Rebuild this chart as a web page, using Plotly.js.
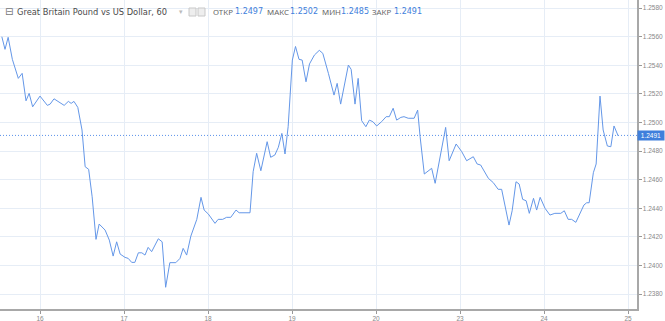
<!DOCTYPE html>
<html><head><meta charset="utf-8">
<script src="https://cdn.plot.ly/plotly-3.0.1.min.js"></script>
<style>html,body{margin:0;padding:0;background:#fff}</style>
</head><body><div id="chart" style="width:665px;height:321px"></div>
<script>
// trading hours from the start of day 16 (weekend removed)
const hours = [-10.9,-10.0,-9.1,-7.9,-6.2,-5.1,-4.0,-3.1,-2.1,0,2.1,2.9,4.0,6.9,8.1,8.9,9.7,10.8,12.0,12.9,13.9,14.9,16.0,16.9,18.6,19.8,20.9,21.9,22.9,24.3,25.2,26.2,27.1,28.1,29.1,30.0,30.9,31.9,33.8,34.9,35.9,37.1,38.8,40.0,40.9,41.9,43.1,44.8,46.0,46.9,48.1,50.0,50.9,52.2,53.3,54.5,56.0,56.9,60.0,60.9,61.9,63.1,64.9,65.9,67.1,68.1,69.1,70.0,70.9,72.1,73.0,74.0,74.9,76.0,77.0,78.4,79.8,80.8,82.4,84.0,84.9,85.9,88.1,88.9,90.0,90.9,91.9,93.1,94.1,95.1,96.2,97.6,98.9,99.8,100.9,101.9,103.1,104.0,105.2,106.9,107.9,108.6,109.8,111.9,112.9,115.9,116.9,118.9,120.5,121.9,123.8,124.9,125.9,128.1,129.5,130.9,131.9,134.0,134.9,136.0,136.9,137.9,138.9,139.8,141.0,141.9,142.9,144.3,145.7,147.1,148.8,149.8,150.9,151.9,153.1,154.3,155.4,156.2,156.9,158.1,158.9,160.0,160.9,162.1,163.1,164.0,165.2];
const prices = [1.2560,1.25512,1.25596,1.25442,1.25309,1.25344,1.25152,1.25204,1.25110,1.25185,1.25120,1.25129,1.25166,1.25120,1.25148,1.25134,1.25148,1.25106,1.24948,1.24691,1.24673,1.24481,1.24183,1.24290,1.24248,1.24178,1.24066,1.24166,1.24080,1.24057,1.24050,1.24022,1.24022,1.24089,1.24089,1.24073,1.24127,1.24097,1.24187,1.24166,1.23848,1.24020,1.24020,1.24050,1.24120,1.24073,1.24206,1.24323,1.24477,1.24388,1.24360,1.24295,1.24323,1.24323,1.24337,1.24337,1.24388,1.24369,1.24369,1.24656,1.24785,1.24663,1.24866,1.24757,1.24773,1.24827,1.24924,1.24780,1.24971,1.25437,1.25532,1.25442,1.25437,1.25285,1.25410,1.25472,1.25505,1.25484,1.25344,1.25192,1.25274,1.25129,1.25402,1.25372,1.25129,1.25309,1.25013,1.24971,1.25017,1.25006,1.24976,1.25006,1.25041,1.25041,1.25100,1.25017,1.25036,1.25041,1.25030,1.25030,1.25087,1.24901,1.24640,1.24680,1.24575,1.24966,1.24733,1.24850,1.24796,1.24733,1.24761,1.24710,1.24703,1.24610,1.24580,1.24533,1.24533,1.24283,1.24383,1.24586,1.24570,1.24463,1.24453,1.24365,1.24470,1.24388,1.24477,1.24400,1.24353,1.24365,1.24365,1.24383,1.24323,1.24323,1.24302,1.24365,1.24423,1.24439,1.24439,1.24649,1.24710,1.25185,1.24948,1.24836,1.24831,1.24976,1.24906];
const dayTickHours = [0,24,48,72,96,120,144,168];
const dayTickLabels = ['16','17','18','19','20','23','24','25'];
const chartTitle = 'Great Britain Pound vs US Dollar, 60';
const headerLabels = ['ОТКР','МАКС','МИН','ЗАКР'];
const headerValues = ['1.2497','1.2502','1.2485','1.2491'];
const lastPrice = 1.2491;

const W = 637, H = 309;
const px = v => v / W;
const py = v => 1 - v / H;
const blue = '#3f7fdc';
const font = 'DejaVu Sans, Verdana, sans-serif';

const labelX = [212, 266, 321, 371];
const valueX = [233, 288, 339, 392];
const annotations = [
  {xref:'paper', yref:'paper', x:px(3), y:py(12), xanchor:'left', yanchor:'middle', showarrow:false,
   text:'⊟', font:{family:font, size:10, color:'#777'}},
  {xref:'paper', yref:'paper', x:px(15), y:py(12), xanchor:'left', yanchor:'middle', showarrow:false,
   text:chartTitle, font:{family:font, size:8.3, color:'#4a4a4a'}},
  {xref:'paper', yref:'paper', x:px(177), y:py(12), xanchor:'left', yanchor:'middle', showarrow:false,
   text:'▾', font:{family:font, size:7, color:'#bbb'}},
  {xref:'paper', yref:'y', x:1, y:lastPrice, xanchor:'left', yanchor:'middle', showarrow:false,
   text:'&nbsp;' + lastPrice.toFixed(4) + '&nbsp;', bgcolor:blue, borderpad:1,
   font:{family:'Liberation Sans Narrow, Liberation Sans, sans-serif', size:6.5, color:'#fff'}}
];
headerLabels.forEach((l, i) => {
  annotations.push({xref:'paper', yref:'paper', x:px(labelX[i]-1), y:py(12), xanchor:'left', yanchor:'middle', showarrow:false,
    text:l, font:{family:'Noto Sans, sans-serif', size:7.9, color:'#666'}});
  annotations.push({xref:'paper', yref:'paper', x:px(valueX[i]), y:py(12), xanchor:'left', yanchor:'middle', showarrow:false,
    text:headerValues[i], font:{family:font, size:8, color:blue}});
});

const shapes = [
  {type:'line', xref:'paper', yref:'y', x0:0, x1:1, y0:lastPrice, y1:lastPrice,
   line:{color:'#5b92ea', width:1, dash:'1px,2px'}},
  {type:'rect', xref:'paper', yref:'paper', x0:px(189), x1:px(196), y0:py(16), y1:py(8),
   line:{color:'#c8c8c8', width:1}, fillcolor:'#eeeeee'},
  {type:'rect', xref:'paper', yref:'paper', x0:px(198), x1:px(205), y0:py(16), y1:py(8),
   line:{color:'#c8c8c8', width:1}, fillcolor:'#eeeeee'}
];

const trace = {
  x: hours, y: prices, type:'scatter', mode:'lines',
  line:{color:'#6497e8', width:1}, hoverinfo:'skip'
};

const tickFont = {family:'Liberation Sans Narrow, Liberation Sans, sans-serif', size:6.5, color:'#888'};
const layout = {
  width:665, height:321,
  margin:{l:0, r:28, t:0, b:12, pad:0},
  paper_bgcolor:'#fff', plot_bgcolor:'#fff',
  showlegend:false,
  xaxis:{
    range:[(0-40)/3.5, (637-40)/3.5],
    tickmode:'array', tickvals:dayTickHours, ticktext:dayTickLabels,
    showgrid:true, gridcolor:'#e6edf6', gridwidth:1,
    zeroline:false, showline:true, linecolor:'#a8a8a8', linewidth:1.5,
    ticks:'outside', ticklen:3, tickcolor:'#999', tickfont:tickFont, fixedrange:true
  },
  yaxis:{
    side:'right',
    range:[1.23696, 1.25857],
    tickmode:'linear', tick0:1.238, dtick:0.002, tickformat:'.4f',
    showgrid:true, gridcolor:'#e6edf6', gridwidth:1,
    zeroline:false, showline:true, linecolor:'#a8a8a8', linewidth:1.5,
    ticks:'outside', ticklen:3, tickcolor:'#999', tickfont:tickFont, fixedrange:true
  },
  annotations: annotations,
  shapes: shapes
};

Plotly.newPlot('chart', [trace], layout, {staticPlot:true, displayModeBar:false});
</script></body></html>
